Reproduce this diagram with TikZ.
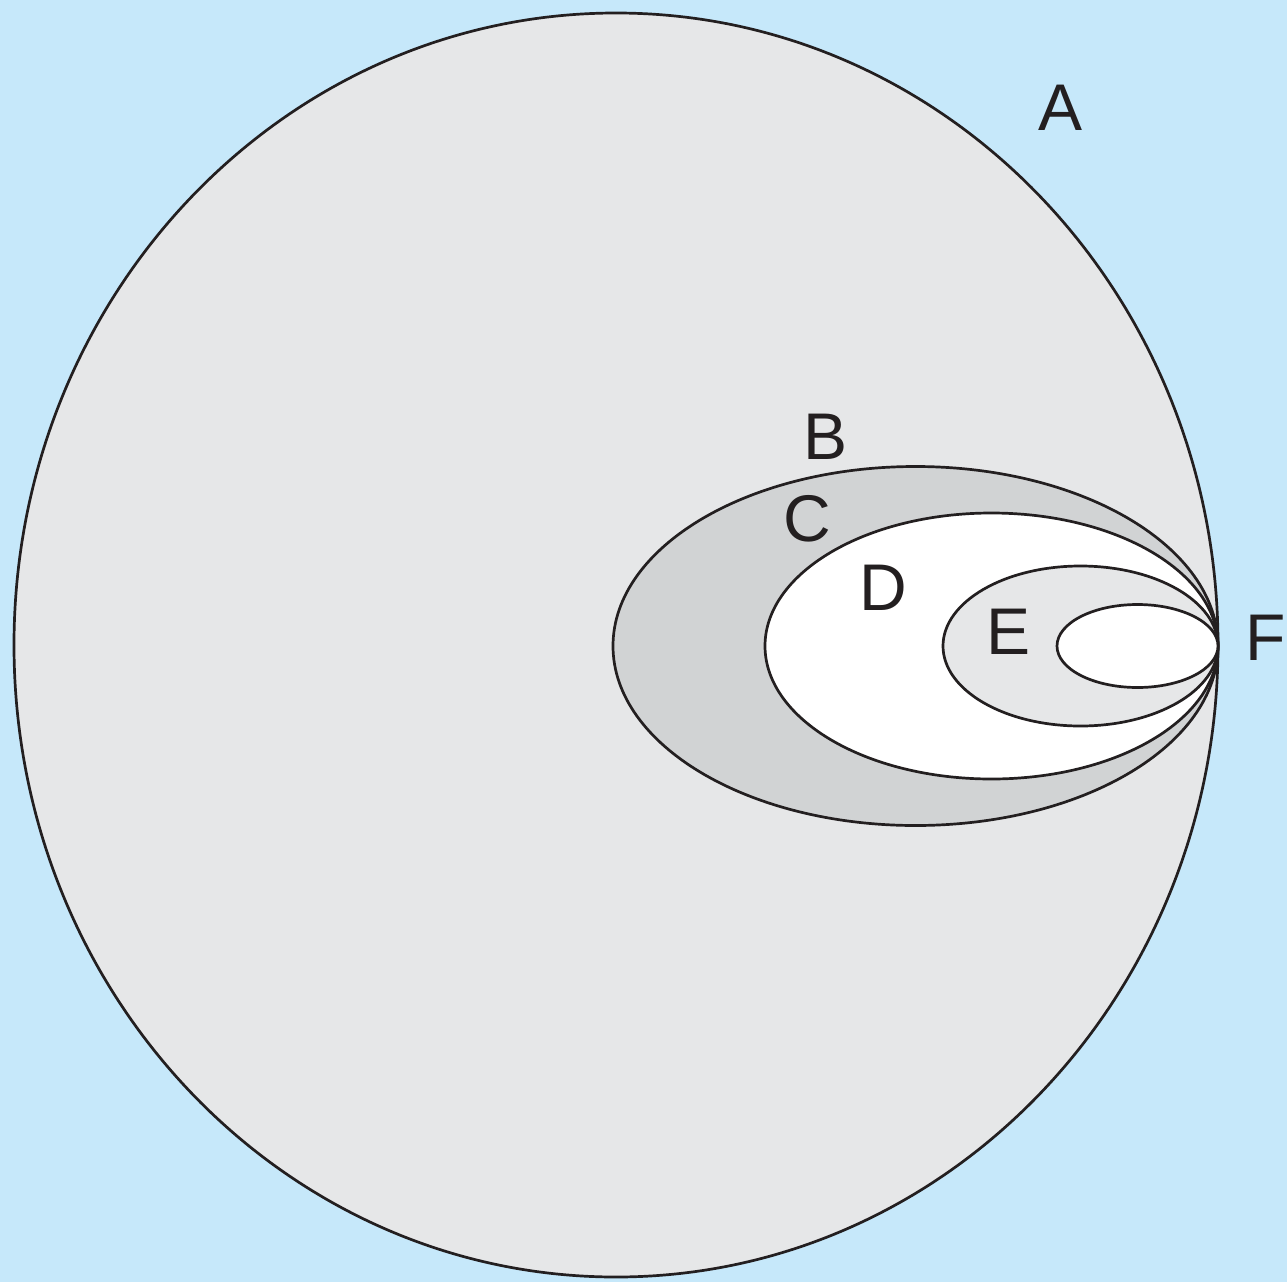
\documentclass[tikz,border=0pt]{standalone}
\usepackage{fontspec}
\setmainfont{Liberation Sans}
\definecolor{bgblue}{HTML}{C6E8FA}
\definecolor{lgray}{HTML}{E6E7E8}
\definecolor{dgray}{HTML}{D1D3D4}
\definecolor{ink}{HTML}{231F20}
\tikzset{
  set/.style={draw=ink, line width=2.7pt},
  lbl/.style={inner sep=0pt, text=ink, font=\fontsize{66}{80}\selectfont}
}
\begin{document}
\begin{tikzpicture}[x=1pt,y=-1pt]
\fill[bgblue] (0,0) rectangle (1287,1282);
\useasboundingbox (0,0) rectangle (1287,1282);
\draw[set, fill=lgray] (616,645) ellipse [x radius=602, y radius=632];
\draw[set, fill=dgray] (915.5,646) ellipse [x radius=302.5, y radius=179.5];
\draw[set, fill=white] (991.5,646) ellipse [x radius=226.5, y radius=133];
\draw[set, fill=lgray] (1080.5,646) ellipse [x radius=137.5, y radius=80];
\draw[set, fill=white] (1137.5,646) ellipse [x radius=80.5, y radius=41.5];
\node[lbl] (A) at (1060,108) {A};
\node[lbl] (B) at (825,437) {B};
\node[lbl] (C) at (807,519) {C};
\node[lbl] (D) at (883,588) {D};
\node[lbl] (E) at (1008,632) {E};
\node[lbl] (F) at (1266,638) {F};
\end{tikzpicture}
\end{document}
